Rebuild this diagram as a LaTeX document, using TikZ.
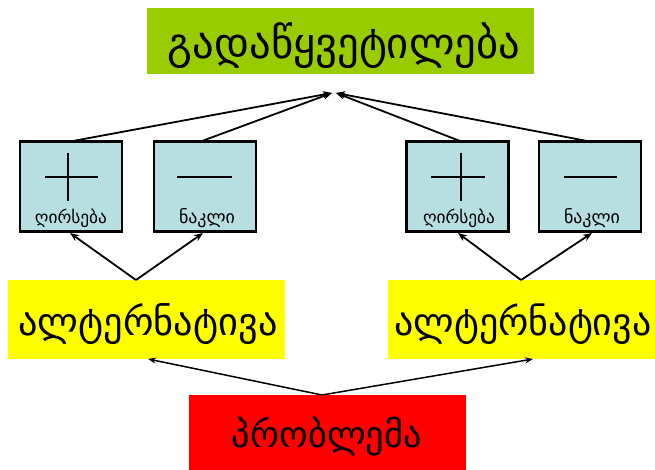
\documentclass[tikz,border=0pt]{standalone}
\usepackage{fontspec}
\setmainfont{DejaVu Sans}
\usetikzlibrary{arrows.meta}
\definecolor{topgreen}{RGB}{153,204,0}
\definecolor{boxblue}{RGB}{183,222,224}
\definecolor{altyellow}{RGB}{255,255,0}
\definecolor{probred}{RGB}{255,0,0}
\newcommand{\fitw}[2]{\resizebox{#1pt}{!}{#2}}
\tikzset{
  filledbox/.style={rectangle, inner sep=0pt, draw=none},
  procon/.style={rectangle, draw=black, line width=2.2pt, fill=boxblue, minimum width=102pt, minimum height=90pt, inner sep=0pt},
  conn/.style={line width=1.8pt, -{Stealth[length=9pt,width=7pt]}},
  thinconn/.style={line width=1.5pt, -{Stealth[length=8pt,width=6pt]}},
  signline/.style={line width=1.8pt},
  lbl/.style={inner sep=0pt}
}
\begin{document}
\begin{tikzpicture}[x=1pt,y=-1pt]
\useasboundingbox (0,0) rectangle (655,470);
% top
\node[filledbox, fill=topgreen, minimum width=387pt, minimum height=66pt] (top) at (340.5,41) {};
\node[lbl] (toptxt) at (344,46) {\fitw{352}{გადაწყვეტილება}};
% pro/con boxes
\node[procon] (b1) at (71,186.5) {};
\node[procon] (b2) at (205,186.5) {};
\node[procon] (b3) at (457.5,186.5) {};
\node[procon] (b4) at (590,186.5) {};
% signs
\draw[signline] (45,177) -- (98,177) (68,153) -- (68,201);
\draw[signline] (177,177) -- (232,177);
\draw[signline] (431,177) -- (485,177) (461,153) -- (461,201);
\draw[signline] (564,177) -- (617,177);
% labels
\node[lbl] (l1) at (71,218) {\fitw{72}{ღირსება}};
\node[lbl] (l2) at (207,218) {\fitw{56}{ნაკლი}};
\node[lbl] (l3) at (459,218) {\fitw{72}{ღირსება}};
\node[lbl] (l4) at (592,218) {\fitw{56}{ნაკლი}};
% alternatives
\node[filledbox, fill=altyellow, minimum width=277pt, minimum height=79pt] (alt1) at (146.5,319.5) {};
\node[lbl] (alt1txt) at (148,324) {\fitw{259}{ალტერნატივა}};
\node[filledbox, fill=altyellow, minimum width=267pt, minimum height=79pt] (alt2) at (521.5,319.5) {};
\node[lbl] (alt2txt) at (523,324) {\fitw{257}{ალტერნატივა}};
% problem
\node[filledbox, fill=probred, minimum width=277pt, minimum height=75pt] (prob) at (327.5,432.5) {};
\node[lbl] (probtxt) at (327,437) {\fitw{190}{პრობლემა}};
% connector coordinates
\coordinate (tl) at (332,93);
\coordinate (tr) at (336,93);
\coordinate (s1) at (73,141);
\coordinate (s2) at (202,141);
\coordinate (s3) at (460,141);
\coordinate (s4) at (587,141);
\coordinate (a1) at (136,280);
\coordinate (a2) at (521,280);
\coordinate (e1) at (70,233);
\coordinate (e2) at (203,233);
\coordinate (e3) at (458,233);
\coordinate (e4) at (592,233);
\coordinate (p) at (322,395);
\coordinate (y1) at (148,359);
\coordinate (y2) at (533,359);
% connectors
\draw[conn] (s1) -- (tl);
\draw[conn] (s2) -- (tl);
\draw[conn] (s3) -- (tr);
\draw[conn] (s4) -- (tr);
\draw[conn] (a1) -- (e1);
\draw[conn] (a1) -- (e2);
\draw[conn] (a2) -- (e3);
\draw[conn] (a2) -- (e4);
\draw[thinconn] (p) -- (y1);
\draw[thinconn] (p) -- (y2);
\end{tikzpicture}
\end{document}
